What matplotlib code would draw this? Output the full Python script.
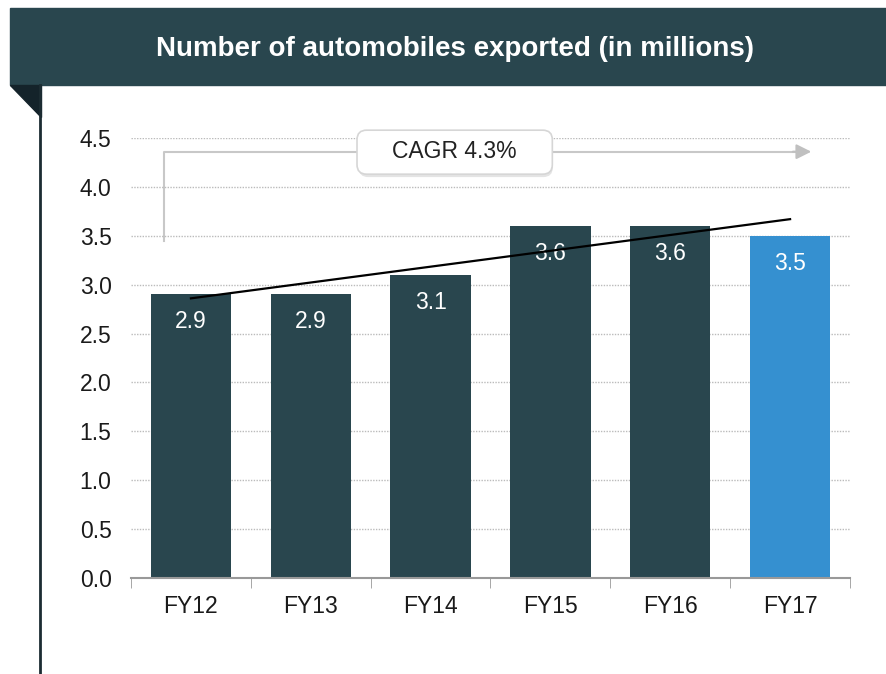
import matplotlib.pyplot as plt
from matplotlib.patches import Rectangle, Polygon, FancyBboxPatch
from matplotlib.lines import Line2D

plt.rcParams['font.family'] = ['Liberation Sans', 'DejaVu Sans']

years = ['FY12', 'FY13', 'FY14', 'FY15', 'FY16', 'FY17']
exports = [2.9, 2.9, 3.1, 3.6, 3.6, 3.5]
bar_colors = ['#29464e', '#29464e', '#29464e', '#29464e', '#29464e', '#3590d0']
trend_start = 2.86
trend_end = 3.67
cagr_text = 'CAGR 4.3%'

W, H = 887, 674
fig = plt.figure(figsize=(W / 100, H / 100), dpi=100)

def fx(px):
    return px / W

def fy(py):
    return 1 - py / H

# header band, fold and left rule
fig.patches.append(Rectangle((fx(10), fy(85)), fx(877), fy(8) - fy(85),
                             transform=fig.transFigure, color='#29464e', zorder=0))
fig.patches.append(Polygon([(fx(10), fy(85)), (fx(41), fy(85)), (fx(41), fy(117))],
                           closed=True, transform=fig.transFigure, color='#14232a', zorder=0))
fig.lines.append(Line2D([fx(40), fx(40)], [fy(85), fy(674)], transform=fig.transFigure,
                        color='#1c2c32', lw=2))
fig.text(fx(455), fy(49), 'Number of automobiles exported (in millions)', color='white',
         fontsize=20, fontweight='bold', ha='center', va='center')

ax = fig.add_axes([fx(131), fy(578), fx(850) - fx(131), fy(138) - fy(578)])
x = list(range(len(years)))
ax.bar(x, exports, width=0.67, color=bar_colors, zorder=2)
for xi, v in zip(x, exports):
    ax.text(xi, v - 0.28, f'{v:.1f}', color='white', ha='center', va='center',
            fontsize=16.5, zorder=3)

ax.plot([0, 5], [trend_start, trend_end], color='black', lw=1.6, zorder=4)

ax.set_xlim(-0.5, 5.5)
ax.set_ylim(0, 4.5)
ax.set_yticks([i * 0.5 for i in range(10)])
ax.set_yticklabels([f'{i * 0.5:.1f}' for i in range(10)])
ax.grid(axis='y', color='#bbbbbb', linestyle=(0, (1, 1)), lw=1, zorder=0)
ax.set_xticks(x)
ax.set_xticklabels(years)
ax.set_xticks([i - 0.5 for i in range(len(years) + 1)], minor=True)
ax.tick_params(axis='x', which='major', length=0, pad=12, labelsize=16.5, colors='#1a1a1a')
ax.tick_params(axis='x', which='minor', length=7, color='#999999', direction='out')
ax.tick_params(axis='y', length=0, pad=14, labelsize=16.5, colors='#1a1a1a')
for s in ['top', 'right', 'left']:
    ax.spines[s].set_visible(False)
ax.spines['bottom'].set_color('#999999')
ax.spines['bottom'].set_linewidth(1.5)
ax.spines['bottom'].set_bounds(-0.5, 5.5)

# CAGR bracket
bx0 = -0.225
ax.plot([bx0, bx0, 5.05], [3.45, 4.36, 4.36], color='#c8c8c8', lw=1.5, zorder=1, clip_on=False)
ax.annotate('', xy=(5.2, 4.36), xytext=(5.0, 4.36),
            arrowprops=dict(arrowstyle='-|>,head_length=0.9,head_width=0.45',
                            color='#c0c0c0', lw=1.5), annotation_clip=False)
aspect = (119.8 / 97.8)
shadow = FancyBboxPatch((1.40, 4.10), 1.62, 0.45, boxstyle='round,pad=0,rounding_size=0.08',
                        mutation_aspect=aspect, fc='#e4e4e4', ec='none', zorder=4, clip_on=False)
box = FancyBboxPatch((1.386, 4.13), 1.63, 0.45, boxstyle='round,pad=0,rounding_size=0.08',
                     mutation_aspect=aspect, fc='white', ec='#d6d6d6', lw=1.2, zorder=5,
                     clip_on=False)
ax.add_patch(shadow)
ax.add_patch(box)
ax.text(2.2, 4.36, cagr_text, ha='center', va='center', fontsize=16.5, color='#222222',
        zorder=6, clip_on=False)

fig.savefig('out.png', dpi=100)
